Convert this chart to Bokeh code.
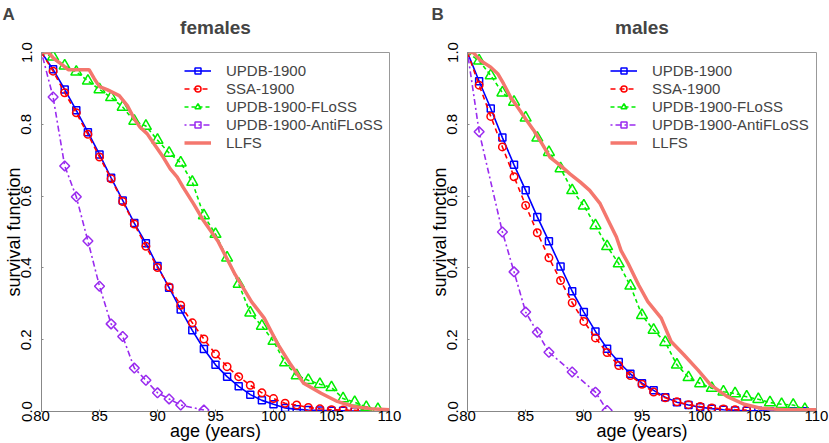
import numpy as np
from bokeh.plotting import figure
from bokeh.models import Range1d, Legend, LegendItem, FixedTicker, PrintfTickFormatter, Title
from bokeh.layouts import row
from bokeh.embed import file_html
from bokeh.resources import INLINE

# ---------------- data ----------------
series_names = ["UPDB-1900", "SSA-1900", "UPDB-1900-FLoSS", "UPDB-1900-AntiFLoSS", "LLFS"]
x_ticks = [80, 85, 90, 95, 100, 105, 110]
y_ticks = [0.0, 0.2, 0.4, 0.6, 0.8, 1.0]

# females
f_updb_age = list(range(80, 109))
f_updb = [1.0, 0.953, 0.897, 0.839, 0.778, 0.716, 0.651, 0.588, 0.525, 0.469, 0.405, 0.345, 0.284,
          0.226, 0.174, 0.130, 0.097, 0.070, 0.047, 0.031, 0.020, 0.010, 0.006, 0.004, 0.003, 0.002,
          0.002, 0.001, 0.001]
f_ssa_age = list(range(80, 109))
f_ssa = [1.0, 0.948, 0.888, 0.832, 0.772, 0.709, 0.648, 0.585, 0.522, 0.460, 0.401, 0.347, 0.296,
         0.247, 0.202, 0.160, 0.125, 0.097, 0.073, 0.052, 0.036, 0.023, 0.018, 0.011, 0.0075, 0.005,
         0.004, 0.003, 0.002]
f_floss_age = list(range(80, 110))
f_floss = [1.0, 0.988, 0.963, 0.946, 0.921, 0.897, 0.875, 0.848, 0.809, 0.795, 0.756, 0.720, 0.693,
           0.639, 0.546, 0.494, 0.428, 0.355, 0.275, 0.238, 0.196, 0.136, 0.100, 0.087, 0.076, 0.067,
           0.036, 0.026, 0.012, 0.006]
f_anti_age = [80, 81, 82, 83, 84, 85, 86, 87, 88, 89, 90, 91, 92, 94]
f_anti = [1.0, 0.876, 0.684, 0.598, 0.475, 0.349, 0.244, 0.209, 0.121, 0.087, 0.052, 0.035, 0.018, 0.004]
f_llfs_age = [80, 80.6, 81.1, 81.85, 82.3, 84.1, 84.55, 85.0, 85.7, 86.7, 87.4, 88.0, 88.5, 89.1, 89.8,
              90.5, 91.1, 91.7, 92.2, 93.1, 93.9, 95.2, 96.7, 98.1, 99.2, 100.4, 101.5, 102.6, 104.1,
              105.5, 106.9, 108.3, 110]
f_llfs = [1.0, 1.0, 0.982, 0.964, 0.952, 0.952, 0.927, 0.905, 0.896, 0.880, 0.852, 0.815, 0.792, 0.774,
          0.741, 0.708, 0.676, 0.653, 0.625, 0.579, 0.535, 0.475, 0.381, 0.306, 0.260, 0.186, 0.130,
          0.079, 0.051, 0.028, 0.014, 0.008, 0.005]

# males
m_updb_age = list(range(80, 110))
m_updb = [1.0, 0.920, 0.844, 0.763, 0.687, 0.616, 0.542, 0.474, 0.404, 0.335, 0.277, 0.223, 0.175,
          0.138, 0.105, 0.079, 0.059, 0.040, 0.026, 0.018, 0.012, 0.008, 0.005, 0.003, 0.002, 0.002,
          0.001, 0.001, 0.001, 0.001]
m_ssa_age = list(range(80, 105))
m_ssa = [1.0, 0.909, 0.822, 0.737, 0.654, 0.574, 0.498, 0.428, 0.365, 0.303, 0.251, 0.205, 0.164,
         0.128, 0.100, 0.076, 0.054, 0.038, 0.027, 0.019, 0.014, 0.010, 0.007, 0.005, 0.004]
m_floss_age = list(range(80, 110))
m_floss = [1.0, 0.977, 0.936, 0.888, 0.862, 0.818, 0.762, 0.722, 0.677, 0.616, 0.573, 0.518, 0.460,
           0.412, 0.350, 0.268, 0.227, 0.193, 0.130, 0.095, 0.078, 0.065, 0.055, 0.050, 0.041, 0.034,
           0.025, 0.020, 0.018, 0.006]
m_anti_age = [80, 81, 83, 84, 85, 86, 87, 89, 91, 92]
m_anti = [1.0, 0.779, 0.500, 0.389, 0.277, 0.221, 0.165, 0.110, 0.054, 0.003]
m_llfs_age = [80, 80.5, 81.1, 82.0, 82.6, 83.1, 83.7, 84.3, 85.0, 85.7, 86.4, 87.1, 88.0, 88.8, 89.7,
              90.5, 91.4, 92.1, 92.8, 93.2, 93.8, 94.7, 95.5, 96.65, 97.5, 98.6, 99.8, 100.9, 102.3,
              103.8, 105.2, 107.2, 110]
m_llfs = [1.0, 1.0, 0.978, 0.959, 0.941, 0.913, 0.876, 0.848, 0.815, 0.783, 0.746, 0.708, 0.685, 0.662,
          0.639, 0.616, 0.579, 0.532, 0.486, 0.448, 0.413, 0.353, 0.306, 0.260, 0.195, 0.158, 0.116,
          0.074, 0.042, 0.020, 0.009, 0.005, 0.005]

FONT = "Liberation Sans"
BLUE, RED, GREEN, PURPLE, SALMON = "#0000FF", "#FF0000", "#00EE00", "#9A2BEF", "#F4776E"


def panel(title, letter, data, width, bl, br, letter_off):
    p = figure(width=width, height=443, x_range=Range1d(80, 110), y_range=Range1d(0, 1),
               output_backend="svg", toolbar_location=None,
               min_border_left=bl, min_border_right=br, min_border_top=52, min_border_bottom=32)
    p.xgrid.visible = False
    p.ygrid.visible = False
    p.outline_line_color = "#999999"
    p.outline_line_width = 1
    p.background_fill_color = "white"

    # outermost: panel letter (figure title, shifted to the left edge)
    p.title.text = letter
    p.title.align = "left"
    p.title.vertical_align = "top"
    p.title.offset = letter_off
    p.title.text_font = FONT
    p.title.text_font_size = "17px"
    p.title.text_font_style = "bold"
    p.title.standoff = 0
    # closest to the frame: an invisible spacer, then the panel name above it
    p.add_layout(Title(text=" ", text_font_size="1px", standoff=19), "above")
    p.add_layout(Title(text=title, align="center", vertical_align="top", text_font=FONT,
                       text_font_size="19px", text_font_style="bold", standoff=-18), "above")

    for ax in (p.xaxis[0], p.yaxis[0]):
        ax.axis_line_color = "#888888"
        ax.major_tick_in = 2
        ax.major_tick_out = 0
        ax.major_tick_line_color = "#888888"
        ax.minor_tick_line_color = None
        ax.major_label_text_font = FONT
        ax.major_label_text_font_size = "15px"
        ax.major_label_text_color = "black"
        ax.axis_label_text_font = FONT
        ax.axis_label_text_font_size = "18px"
        ax.axis_label_text_font_style = "normal"
        ax.axis_label_text_color = "black"
    p.xaxis.ticker = FixedTicker(ticks=x_ticks)
    p.yaxis.ticker = FixedTicker(ticks=y_ticks)
    p.yaxis.formatter = PrintfTickFormatter(format="%.1f")
    p.yaxis.major_label_orientation = "vertical"
    p.xaxis.axis_label = "age (years)"
    p.yaxis.axis_label = "survival function"
    p.xaxis.major_label_standoff = -1
    p.xaxis.axis_label_standoff = -3
    p.yaxis.major_label_standoff = 10
    p.yaxis.axis_label_standoff = -5

    (ua, uv), (sa, sv), (fa, fv), (aa, av), (la, lv) = data
    items = []
    r1 = p.line(ua, uv, line_color=BLUE, line_width=1.6)
    s1 = p.scatter(ua[1:], uv[1:], marker="square", size=7, line_color=BLUE, line_width=1.5, fill_color=None)
    items.append(LegendItem(label=series_names[0], renderers=[r1, s1]))
    r2 = p.line(sa, sv, line_color=RED, line_width=1.6, line_dash="5 4")
    s2 = p.scatter(sa[1:], sv[1:], marker="circle", size=7.5, line_color=RED, line_width=1.5, fill_color=None)
    items.append(LegendItem(label=series_names[1], renderers=[r2, s2]))
    r3 = p.line(fa, fv, line_color=GREEN, line_width=1.6, line_dash="4 3")
    s3 = p.scatter(fa[1:], fv[1:], marker="triangle", size=11, line_color=GREEN, line_width=1.5, fill_color=None)
    items.append(LegendItem(label=series_names[2], renderers=[r3, s3]))
    r4 = p.line(aa, av, line_color=PURPLE, line_width=1.6, line_dash="2 3 6 3")
    s4 = p.scatter(aa[1:], av[1:], marker="square", angle=np.pi / 4, size=7, line_color=PURPLE,
                   line_width=1.5, fill_color=None)
    items.append(LegendItem(label=series_names[3], renderers=[r4, s4]))
    r5 = p.line(la, lv, line_color=SALMON, line_width=3.5)
    items.append(LegendItem(label=series_names[4], renderers=[r5]))

    lg = Legend(items=items, location=(143, 260), border_line_color=None, background_fill_alpha=0,
                padding=0, margin=0, spacing=1, glyph_height=15, glyph_width=27, label_height=15,
                label_standoff=15, label_text_font=FONT, label_text_font_size="15px")
    p.add_layout(lg)
    return p


p1 = panel("females", "A", [(f_updb_age, f_updb), (f_ssa_age, f_ssa), (f_floss_age, f_floss),
                            (f_anti_age, f_anti), (f_llfs_age, f_llfs)], 426, 38, 37, -39)
p2 = panel("males", "B", [(m_updb_age, m_updb), (m_ssa_age, m_ssa), (m_floss_age, m_floss),
                          (m_anti_age, m_anti), (m_llfs_age, m_llfs)], 403, 38, 13, -36)

layout = row(p1, p2)
open("out.html", "w").write(file_html(layout, INLINE))
